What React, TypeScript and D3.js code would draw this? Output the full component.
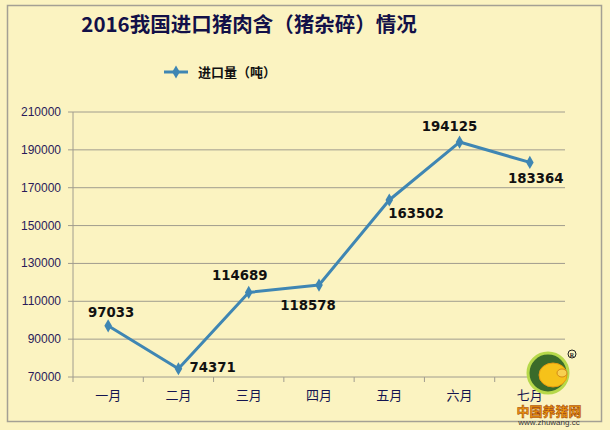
import React from "react";
import * as d3 from "d3";

const title = "2016我国进口猪肉含（猪杂碎）情况";
const seriesName = "进口量（吨）";
const months = ["一月", "二月", "三月", "四月", "五月", "六月", "七月"];
const imports = [97033, 74371, 114689, 118578, 163502, 194125, 183364];
const yTicks = [70000, 90000, 110000, 130000, 150000, 170000, 190000, 210000];
// label placement: dx, dy relative to point, anchor
const labelPos: [number, number, string][] = [
  [3, -9, "middle"],
  [11, 3, "start"],
  [-9, -12, "middle"],
  [-11, 25, "middle"],
  [-1, 18, "start"],
  [-10, -11, "middle"],
  [6, 21, "middle"],
];

export default function App() {
  const W = 610, H = 430;
  const left = 73, right = 565, top = 112, bottom = 377;
  const x = d3.scaleBand<string>().domain(months).range([left, right]);
  const y = d3.scaleLinear().domain([70000, 210000]).range([bottom, top]);
  const cx = (m: string) => (x(m) as number) + x.bandwidth() / 2;
  const line = d3.line<number>().x((_, i) => cx(months[i])).y((d) => y(d));
  const diamond = d3.symbol().type(d3.symbolDiamond).size(50)();
  const font = "'DejaVu Sans', 'Liberation Sans', sans-serif";
  const cjk = "'Noto Sans CJK SC', 'Liberation Sans', sans-serif";
  return (
    <svg width={W} height={H} style={{ position: "absolute", left: 0, top: 0 }}>
      <rect x={0} y={0} width={W} height={H} fill="#FBF3C1" />
      <rect x={7.5} y={5.5} width={594} height={416} fill="none" stroke="#A4A094" strokeWidth={1.5} />
      <text x={249} y={32} textAnchor="middle" fontFamily={cjk} fontWeight="bold" fontSize={20.5} fill="#121048">{title}</text>
      <line x1={164} x2={188} y1={72} y2={72} stroke="#3F86B3" strokeWidth={3} />
      <path d={diamond} transform="translate(176,72)" fill="#3F86B3" />
      <text x={198} y={77} fontFamily={cjk} fontWeight="bold" fontSize={13} fill="#111">{seriesName}</text>
      {yTicks.map((t) => (
        <g key={t}>
          <line x1={left} x2={right} y1={y(t)} y2={y(t)} stroke="#A09C8E" strokeWidth={1} />
          <line x1={left - 5} x2={left} y1={y(t)} y2={y(t)} stroke="#A09C8E" strokeWidth={1} />
          <text x={61} y={y(t) + 4} textAnchor="end" fontFamily="'Liberation Sans', sans-serif" fontSize={12} fill="#2A1A5A">{t}</text>
        </g>
      ))}
      <line x1={left} x2={left} y1={top} y2={bottom + 5} stroke="#A09C8E" strokeWidth={1} />
      {months.map((m) => (
        <g key={m}>
          <line x1={(x(m) as number) + x.bandwidth()} x2={(x(m) as number) + x.bandwidth()} y1={bottom} y2={bottom + 5} stroke="#A09C8E" />
          <text x={cx(m)} y={400} textAnchor="middle" fontFamily={cjk} fontSize={13} fill="#141450">{m}</text>
        </g>
      ))}
      <path d={line(imports) as string} fill="none" stroke="#3F86B3" strokeWidth={3} strokeLinejoin="round" />
      {imports.map((v, i) => (
        <path key={i} d={diamond} transform={`translate(${cx(months[i])},${y(v)})`} fill="#3F86B3" />
      ))}
      {imports.map((v, i) => (
        <text key={"l" + i} x={cx(months[i]) + labelPos[i][0]} y={y(v) + labelPos[i][1]} textAnchor={labelPos[i][2] as any}
          fontFamily={font} fontWeight="bold" fontSize={13.3} fill="#111">{v}</text>
      ))}
      <g>
        <circle cx={548} cy={373} r={20} fill="#3A6B2A" stroke="#B6D84A" strokeWidth={3} />
        <ellipse cx={553} cy={375} rx={14} ry={12} fill="#F6C21A" stroke="#E89A10" />
        <ellipse cx={562} cy={373} rx={5} ry={4} fill="#F8D050" stroke="#C87A10" strokeWidth={0.8} />
        <circle cx={572} cy={354} r={4} fill="none" stroke="#222" strokeWidth={1} />
        <text x={572} y={356.5} textAnchor="middle" fontSize={6} fontWeight="bold" fill="#222">R</text>
        <text x={549} y={416} textAnchor="middle" fontFamily={cjk} fontWeight="bold" fontSize={13} fill="#F29A0E" stroke="#9A3A00" strokeWidth={0.5}>中国养猪网</text>
        <text x={549} y={425} textAnchor="middle" fontFamily="'Liberation Sans', sans-serif" fontSize={8} fill="#333">www.zhuwang.cc</text>
      </g>
    </svg>
  );
}
